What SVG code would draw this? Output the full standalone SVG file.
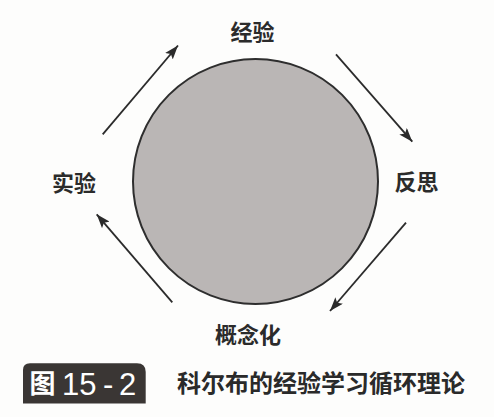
<svg xmlns="http://www.w3.org/2000/svg" width="494" height="417" viewBox="0 0 494 417">
<style>
.lbl{font-family:"Noto Sans CJK SC","Noto Sans",sans-serif;font-size:22px;font-weight:bold;fill:#2b2b2b;text-anchor:middle}
.arr{stroke:#2b2b2b;stroke-width:1.8;fill:none;marker-end:url(#ah)}
</style>
<defs>
<marker id="ah" viewBox="0 0 14 10" refX="14" refY="5" markerWidth="14" markerHeight="10" markerUnits="userSpaceOnUse" orient="auto">
<path d="M0,0 L14,5 L0,10 L3,5 Z" fill="#2b2b2b"/>
</marker>
</defs>
<rect width="494" height="417" fill="#fdfdfc"/>
<g id="circle">
<circle cx="255.5" cy="181.5" r="122.5" fill="#bab6b5" stroke="#2e2e2e" stroke-width="2"/>
</g>
<g id="node-experience"><text class="lbl" x="252.5" y="40">经验</text></g>
<g id="node-reflection"><text class="lbl" x="416.5" y="190">反思</text></g>
<g id="node-concept"><text class="lbl" x="248" y="343">概念化</text></g>
<g id="node-experiment"><text class="lbl" x="74" y="191">实验</text></g>
<g id="connectors">
<line class="arr" x1="102.7" y1="134.3" x2="178" y2="45.5"/>
<line class="arr" x1="336" y1="54.3" x2="412.3" y2="141.7"/>
<line class="arr" x1="406" y1="222.7" x2="330" y2="311"/>
<line class="arr" x1="172.3" y1="302.3" x2="96.7" y2="214.3"/>
</g>
<g id="caption">
<path d="M23,403.5 V370 Q23,363.3 30,363.3 H137 Q145.7,363.3 145.7,372 V403.5 Z" fill="#3a3634"/>
<text x="42.5" y="393" font-family="Noto Sans CJK SC,sans-serif" font-size="26" font-weight="bold" fill="#ffffff" text-anchor="middle">图</text>
<text y="395" font-family="Liberation Sans,Arial,sans-serif" font-size="31" fill="#ffffff"><tspan x="62">15</tspan><tspan x="103">-</tspan><tspan x="119">2</tspan></text>
<text x="321" y="392" font-family="Noto Sans CJK SC,sans-serif" font-size="24" font-weight="bold" fill="#2a2a2a" text-anchor="middle">科尔布的经验学习循环理论</text>
</g>
</svg>
